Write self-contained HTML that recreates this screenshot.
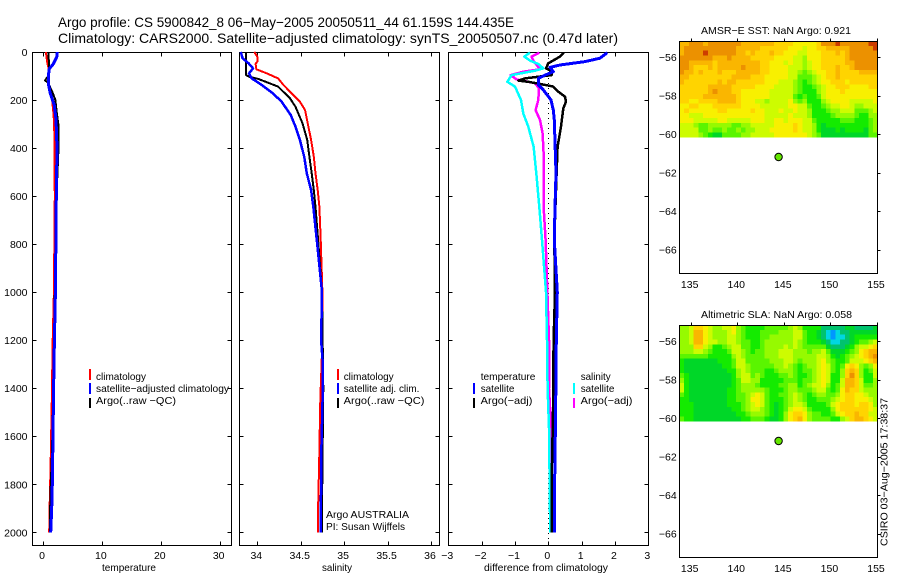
<!DOCTYPE html>
<html>
<head>
<meta charset="utf-8">
<title>Argo profile 5900842_8</title>
<style>
html,body{margin:0;padding:0;background:#fff;width:900px;height:580px;overflow:hidden}
svg{display:block;font-family:"Liberation Sans",sans-serif;fill:#000}
svg text{font-size:10.5px}
.title{font-size:14px}
.frame{fill:none;stroke:#000;stroke-width:1;shape-rendering:crispEdges}
</style>
</head>
<body>
<svg id="fig" width="900" height="580" viewBox="0 0 900 580" xmlns="http://www.w3.org/2000/svg">
  <text class="title" x="58" y="27" textLength="456" lengthAdjust="spacingAndGlyphs">Argo profile: CS 5900842_8 06−May−2005 20050511_44 61.159S 144.435E</text>
  <text class="title" x="58" y="43" textLength="560" lengthAdjust="spacingAndGlyphs">Climatology: CARS2000. Satellite−adjusted climatology: synTS_20050507.nc (0.47d later)</text>

  <g id="p1"></g>
  <g id="p2"></g>
  <g id="p3"></g>
  <g id="m1"></g>
  <g id="m2"></g>

  <text x="102" y="571" textLength="54" lengthAdjust="spacingAndGlyphs">temperature</text>
  <text x="322" y="571" textLength="30" lengthAdjust="spacingAndGlyphs">salinity</text>
  <text x="484" y="571" textLength="124" lengthAdjust="spacingAndGlyphs">difference from climatology</text>

  <g>
    <rect x="89" y="369" width="2" height="11" fill="#f00"/>
    <rect x="89" y="383" width="2" height="11" fill="#00f"/>
    <rect x="89" y="398" width="2" height="10" fill="#000"/>
    <text x="96" y="380" textLength="50" lengthAdjust="spacingAndGlyphs">climatology</text>
    <text x="96" y="392" textLength="133" lengthAdjust="spacingAndGlyphs">satellite−adjusted climatology</text>
    <text x="96" y="404" textLength="80" lengthAdjust="spacingAndGlyphs">Argo(..raw −QC)</text>
  </g>
  <g>
    <rect x="337" y="369" width="2" height="11" fill="#f00"/>
    <rect x="337" y="383" width="2" height="11" fill="#00f"/>
    <rect x="337" y="398" width="2" height="10" fill="#000"/>
    <text x="343.7" y="380" textLength="50" lengthAdjust="spacingAndGlyphs">climatology</text>
    <text x="343.7" y="392" textLength="75.7" lengthAdjust="spacingAndGlyphs">satellite adj. clim.</text>
    <text x="343.7" y="404" textLength="80.7" lengthAdjust="spacingAndGlyphs">Argo(..raw −QC)</text>
    <text x="326" y="518" textLength="83" lengthAdjust="spacingAndGlyphs">Argo AUSTRALIA</text>
    <text x="326" y="530" textLength="79" lengthAdjust="spacingAndGlyphs">PI: Susan Wijffels</text>
  </g>
  <g>
    <text x="480.7" y="380" textLength="54.7" lengthAdjust="spacingAndGlyphs">temperature</text>
    <rect x="473" y="383" width="2" height="11" fill="#00f"/>
    <rect x="473" y="398" width="2" height="10" fill="#000"/>
    <text x="480.7" y="392" textLength="33.7" lengthAdjust="spacingAndGlyphs">satellite</text>
    <text x="480.7" y="404" textLength="51.7" lengthAdjust="spacingAndGlyphs">Argo(−adj)</text>
    <text x="580.7" y="380" textLength="30" lengthAdjust="spacingAndGlyphs">salinity</text>
    <rect x="573" y="383" width="2" height="11" fill="#0ff"/>
    <rect x="573" y="398" width="2" height="10" fill="#f0f"/>
    <text x="580.7" y="392" textLength="33.7" lengthAdjust="spacingAndGlyphs">satellite</text>
    <text x="580.7" y="404" textLength="51.7" lengthAdjust="spacingAndGlyphs">Argo(−adj)</text>
  </g>

  <text x="701" y="34" textLength="150" lengthAdjust="spacingAndGlyphs">AMSR−E SST: NaN Argo: 0.921</text>
  <text x="701" y="318" textLength="151" lengthAdjust="spacingAndGlyphs">Altimetric SLA: NaN Argo: 0.058</text>
  <text transform="translate(887.5,546) rotate(-90)" textLength="148" lengthAdjust="spacingAndGlyphs">CSIRO 03−Aug−2005 17:38:37</text>
</svg>
<script>
/* ---------- profile data ---------- */
const depthTicks = [0,200,400,600,800,1000,1200,1400,1600,1800,2000];
const tempTicks = [0,10,20,30];
const salTicks = [34,34.5,35,35.5,36];
const diffTicks = [-3,-2,-1,0,1,2,3];

const tempClimDepth = [0,40,70,100,130,170,200,250,300,600,1000,1200,1450,1700,1900,2000];
const tempClimValue = [0.5,0.7,0.95,0.95,1.0,1.3,1.55,1.75,1.9,2.0,1.85,1.65,1.5,1.3,1.12,1.05];
const tempArgoDepth = [0,60,100,118,130,170,200,250,300,420,600,1000,1400,1650,1850,2000];
const tempArgoValue = [0.9,1.05,0.9,0.35,0.9,1.65,2.1,2.32,2.6,2.6,2.3,2.0,1.75,1.55,1.25,1.15];
const tempSatDepth = [0,20,50,70,100,130,170,220,280,400,600,1000,1200,1400,1600,1800,1900,2000];
const tempSatValue = [2.43,2.35,1.75,1.07,0.9,0.9,1.2,1.9,2.2,2.38,2.26,2.1,1.93,1.8,1.7,1.58,1.47,1.3];

const salClimDepth = [0,19,40,50,72,89,110,137,172,207,242,297,366,436,505,575,644,783,1000,1200,1450,1700,1900,2000];
const salClimValue = [33.965,34.0,34.0,33.98,33.99,34.11,34.24,34.3,34.395,34.49,34.55,34.58,34.62,34.65,34.67,34.695,34.715,34.73,34.75,34.75,34.725,34.713,34.7,34.7];
const salArgoDepth = [0,96,103,112,144,193,228,297,366,436,505,575,644,783,1000,1400,1900,2000];
const salArgoValue = [33.87,33.87,33.905,34.01,34.24,34.376,34.44,34.52,34.575,34.6,34.626,34.65,34.67,34.7,34.745,34.76,34.745,34.745];
const salSatDepth = [0,26,47,68,89,110,137,172,207,262,311,366,436,505,575,644,783,1000,1200,1300,1500,1600,1800,2000];
const salSatValue = [33.81,33.83,33.9,33.95,33.905,33.935,34.05,34.18,34.28,34.385,34.44,34.49,34.54,34.57,34.62,34.645,34.685,34.745,34.735,34.755,34.75,34.74,34.735,34.73];

const diffTempSatDepth = [3,26,40,54,64,82,96,110,137,158,200,242,283,505,644,783,1000,1200,1500,1900,2000];
const diffTempSatValue = [1.77,1.55,1.1,0.35,0.05,0.15,-0.1,-0.3,-0.3,-0.15,0.08,0.15,0.18,0.23,0.2,0.18,0.27,0.24,0.22,0.18,0.18];
const diffTempArgoDepth = [3,19,47,68,82,96,110,119,124,137,144,165,186,207,235,311,394,505,783,1000,1200,1500,1800,2000];
const diffTempArgoValue = [0.47,0.35,0,-0.07,0.12,0.1,-0.7,-0.9,-0.6,-0.1,0.15,0.3,0.5,0.53,0.45,0.38,0.28,0.25,0.18,0.2,0.16,0.14,0.1,0.1];
const diffSalSatDepth = [3,19,36,50,68,78,96,124,144,200,256,311,394,505,644,783,1000,1200,1400,1600,1800,2000];
const diffSalSatValue = [-0.55,-0.72,-0.55,-0.3,-0.15,-0.4,-1.1,-1.23,-1.0,-0.82,-0.75,-0.6,-0.44,-0.36,-0.27,-0.19,-0.07,-0.04,-0.02,0.03,0.04,0.06];
const diffSalArgoDepth = [3,19,36,72,82,96,114,130,151,200,242,283,339,422,644,783,1200,1400,1500,1700,1800,2000];
const diffSalArgoValue = [-0.27,-0.5,-0.45,-0.25,-0.75,-1.13,-0.95,-0.4,-0.28,-0.3,-0.38,-0.25,-0.17,-0.14,-0.14,-0.08,0.02,0.02,0.06,0.06,0.09,0.08];

/* ---------- map data (colour level) ---------- */
const lonTicks = [135,140,145,150,155];
const latTicks = [-56,-58,-60,-62,-64,-66];
const floatLon = 144.435;
const floatLat = -61.159;
const sstGrid = [
[7,7,8,8,8,7,8,8,8,8,8,8,8,7,7,7,7,7,7,7,6,6,6,6,5,5,5,5,5,6,8,8,8,9,8,8,8,8,8,8,9,9],
[7,8,8,8,8,8,8,8,8,8,8,8,7,7,7,7,7,6,6,6,6,6,6,5,5,5,4,5,5,6,6,7,7,7,7,7,8,8,8,8,8,9],
[7,8,8,8,8,9,8,8,8,8,8,8,7,7,6,7,6,6,6,7,6,6,5,5,5,4,4,5,5,5,6,6,6,7,6,7,8,8,8,8,8,8],
[8,8,8,8,8,8,8,7,7,7,8,7,7,7,7,6,6,6,6,6,5,5,5,5,4,4,3,5,5,5,6,6,6,6,6,7,8,8,8,8,8,8],
[8,8,7,7,7,7,7,6,7,7,7,7,7,7,7,7,7,6,6,5,5,5,4,5,4,4,3,4,5,5,6,6,6,6,6,7,7,8,8,8,8,8],
[8,8,7,6,6,6,7,6,7,7,7,7,7,8,7,7,7,6,6,5,5,5,5,4,4,4,3,4,5,5,6,6,6,7,6,6,7,8,8,8,8,8],
[8,7,7,6,7,6,6,6,7,6,6,6,7,7,7,7,7,6,6,5,5,5,5,4,4,3,2,3,4,5,5,6,6,7,6,6,6,6,7,7,7,7],
[7,7,6,6,6,6,6,6,6,6,6,7,7,7,7,6,6,6,5,5,5,5,5,4,4,2,2,2,3,4,5,6,6,7,6,6,6,6,6,6,6,6],
[7,6,6,6,6,6,6,6,7,6,7,7,6,6,6,6,6,6,5,5,5,4,4,4,3,2,1,2,3,4,5,5,6,6,6,5,6,6,6,6,6,6],
[6,6,6,6,6,6,7,7,7,7,7,6,6,6,6,6,5,5,5,5,4,4,4,4,3,2,1,1,2,3,4,5,5,6,6,6,5,5,5,5,6,6],
[6,6,6,6,6,6,7,8,7,7,7,6,6,5,5,5,5,5,5,4,4,4,4,4,3,2,1,1,1,3,4,5,5,5,6,5,5,5,5,5,5,5],
[6,6,6,6,6,7,7,7,7,7,7,7,6,5,5,5,5,5,5,4,4,4,4,4,2,1,2,1,1,2,4,5,5,5,5,5,5,5,5,5,5,5],
[6,6,5,5,6,6,6,6,7,7,7,7,6,5,5,5,4,4,3,4,4,4,4,5,3,2,3,1,1,1,3,4,5,5,5,5,4,4,4,4,4,5],
[5,5,6,6,5,5,5,6,6,6,6,6,6,5,5,5,5,4,4,4,4,4,4,5,5,4,4,2,1,1,2,3,4,4,5,5,4,3,3,4,4,4],
[5,6,5,5,5,5,5,5,6,6,5,5,5,5,5,6,5,5,4,4,4,5,4,4,5,4,4,3,1,1,1,2,3,3,4,4,4,2,2,2,3,4],
[5,5,4,4,4,5,5,5,5,5,5,5,5,5,5,5,5,5,4,4,4,4,4,5,4,4,4,3,1,1,1,1,2,3,3,3,3,2,1,1,3,3],
[5,5,5,4,4,4,4,4,5,5,4,4,4,4,4,5,5,5,4,4,5,5,4,5,5,5,4,4,2,1,1,1,1,1,2,2,2,1,1,1,2,3],
[4,4,4,3,2,2,3,3,3,3,3,2,2,3,3,4,4,4,4,4,5,5,5,5,6,5,4,4,3,1,0,1,1,1,1,1,1,1,1,1,2,3],
[4,4,4,4,2,2,3,2,2,3,2,2,3,2,3,3,4,4,4,5,5,5,5,5,6,5,4,4,3,1,0,0,0,1,0,1,1,1,1,0,2,3],
[4,4,4,4,3,2,1,0,0,2,2,2,2,3,3,4,4,4,4,4,5,5,5,5,5,5,5,4,3,2,0,0,0,0,0,0,0,0,0,0,2,2]
];
const slaGrid = [
[3,3,4,6,6,5,4,3,3,4,4,5,3,2,1,1,1,1,2,2,2,2,2,3,4,3,1,1,1,1,-1,-1,-1,-1,-1,0,0,-1,-1,-1,-1,0],
[3,3,4,7,7,5,4,3,3,3,4,5,3,2,1,1,1,2,2,2,2,3,3,3,4,4,2,1,1,0,-1,-2,-3,-2,-1,-1,0,0,0,0,0,0],
[3,3,4,7,7,5,4,3,3,3,4,4,3,2,1,1,1,2,2,3,3,3,3,3,4,4,2,1,1,0,-1,-2,-3,-2,-2,-1,0,1,1,1,1,1],
[3,3,4,7,7,5,4,4,3,3,4,4,3,2,2,1,1,2,3,3,3,3,3,3,4,3,2,1,1,1,0,-1,-2,-2,-1,-1,0,1,2,2,3,4],
[3,3,3,6,6,4,3,1,1,2,3,4,4,2,2,1,1,2,3,3,3,3,4,3,4,3,2,2,2,2,2,0,-1,-1,-1,0,1,3,4,4,5,6],
[3,3,3,4,4,3,2,1,1,1,2,4,4,3,2,1,2,2,3,3,3,4,4,4,3,3,3,2,3,3,4,2,0,0,0,1,2,3,5,6,7,7],
[2,2,2,2,2,2,1,1,1,1,1,3,4,3,2,2,2,2,3,3,3,4,4,4,3,3,3,3,3,4,4,3,1,0,1,2,3,4,5,6,7,8],
[1,0,0,0,0,0,0,0,1,1,1,2,4,4,2,2,2,2,2,3,3,3,4,4,3,2,3,3,3,4,5,3,2,1,1,2,4,4,4,5,6,7],
[1,0,0,0,0,0,0,0,0,1,1,2,4,4,3,2,2,2,2,2,3,3,4,3,2,1,2,3,3,4,5,4,2,1,2,5,6,5,3,2,3,5],
[1,0,0,0,0,0,0,0,0,0,1,1,3,4,3,2,2,2,1,1,2,3,3,3,2,1,2,2,3,4,5,4,2,1,3,6,7,6,3,1,2,4],
[2,1,0,0,0,0,0,0,0,0,0,1,3,4,4,2,3,2,1,1,1,2,2,3,2,1,1,2,3,4,5,4,1,1,3,6,8,6,3,1,1,4],
[3,1,0,0,0,0,0,0,0,0,0,1,2,4,4,3,3,1,1,1,1,1,2,2,2,1,2,2,3,4,5,4,1,1,4,7,7,6,4,1,1,3],
[4,1,0,0,0,0,0,0,0,0,0,1,2,3,3,3,2,1,1,1,1,2,2,3,3,1,2,3,4,4,5,3,1,2,4,7,7,6,4,2,2,3],
[4,1,0,0,0,0,0,0,0,0,1,1,2,3,3,3,3,3,2,1,1,1,2,3,3,2,2,2,3,4,4,2,1,2,5,7,6,6,4,3,3,3],
[2,1,0,0,0,0,0,0,0,0,1,1,2,2,3,4,5,4,2,1,1,2,2,3,4,3,2,1,2,3,3,2,2,3,5,6,6,5,5,4,3,3],
[1,1,0,0,0,0,0,0,0,0,1,1,2,2,3,5,5,4,2,1,1,1,2,3,4,3,2,1,1,2,2,2,3,4,5,6,6,5,5,5,4,3],
[1,1,1,0,0,0,0,0,0,0,1,1,1,2,3,4,5,4,2,1,0,1,2,3,4,4,3,1,1,1,1,2,4,5,6,6,6,5,6,6,5,3],
[1,1,1,0,0,0,0,0,0,0,0,1,1,2,3,4,4,3,2,1,0,1,2,4,5,5,4,2,1,1,1,1,3,5,6,6,6,6,6,6,5,4],
[1,1,1,0,0,0,0,0,0,0,0,0,1,1,2,3,3,3,2,1,0,1,3,5,6,6,5,3,2,2,1,1,2,4,5,6,6,7,6,6,4,4],
[2,1,1,0,0,0,0,0,0,0,0,0,0,1,1,2,2,2,1,0,0,1,3,5,6,7,5,3,2,2,2,2,1,1,3,4,6,7,7,6,5,4]
];

/* ---------- helpers ---------- */
const NS = 'http://www.w3.org/2000/svg';
function mk(parent, tag, attrs){
  const el = document.createElementNS(NS, tag);
  for (const k in attrs) el.setAttribute(k, attrs[k]);
  parent.appendChild(el);
  return el;
}
function linear(d0, r0, d1, r1){
  return function(v){ return r0 + (v - d0) * (r1 - r0) / (d1 - d0); };
}
function fmt(v){ return String(v).replace('-', '\u2212'); }

const depthY = linear(0, 52, 2000, 532.3);

function drawPanel(id, L, R, xScale, xTicks){
  const g = document.getElementById(id);
  const T = 52.5, B = 545.5;
  const ticks = mk(g, 'path', {fill:'none', stroke:'#000', 'stroke-width':1, 'shape-rendering':'crispEdges'});
  
  
  let d = '';
  depthTicks.forEach(function(v){
    const y = Math.round(depthY(v)) + 0.5;
    d += 'M' + L + ' ' + y + 'h4M' + R + ' ' + y + 'h-4';
  });
  xTicks.forEach(function(v){
    const x = Math.round(xScale(v)) + 0.5;
    d += 'M' + x + ' ' + T + 'v4M' + x + ' ' + B + 'v-4';
    const t = mk(g, 'text', {x: xScale(v) - 1, y: 559, 'text-anchor':'middle'});
    
    
    t.textContent = fmt(v);
  });
  ticks.setAttribute('d', d);
  const frame = mk(g, 'rect', {class:'frame', x:L, y:T, width:R-L, height:B-T});
  
  
  return g;
}
function drawSeries(g, name, depths, values, xScale, color, width){
  const pts = depths.map(function(dep, i){ return xScale(values[i]).toFixed(1) + ',' + depthY(dep).toFixed(1); }).join(' ');
  const line = mk(g, 'polyline', {points: pts, fill:'none', stroke:color, 'stroke-width':width, 'shape-rendering':'crispEdges', 'stroke-linejoin':'round'});
  
  
}

/* ---------- temperature ---------- */
const tempX = linear(0, 43, 30, 219.7);
const p1 = drawPanel('p1', 32.5, 231.5, tempX, tempTicks);
drawSeries(p1, 'temperature-climatology-line', tempClimDepth, tempClimValue, tempX, '#f00', 2);
drawSeries(p1, 'temperature-argo-line', tempArgoDepth, tempArgoValue, tempX, '#000', 2);
drawSeries(p1, 'temperature-satellite-line', tempSatDepth, tempSatValue, tempX, '#00f', 3);
depthTicks.forEach(function(v){
  const t = mk(p1, 'text', {x: 27.5, y: depthY(v) + 4, 'text-anchor':'end'});
  
  
  t.textContent = fmt(v);
});

/* ---------- salinity ---------- */
const salX = linear(34, 257.3, 36, 431);
const p2 = drawPanel('p2', 239.5, 439.5, salX, salTicks);
drawSeries(p2, 'salinity-climatology-line', salClimDepth, salClimValue, salX, '#f00', 2);
drawSeries(p2, 'salinity-argo-line', salArgoDepth, salArgoValue, salX, '#000', 2);
drawSeries(p2, 'salinity-satellite-line', salSatDepth, salSatValue, salX, '#00f', 2.5);

/* ---------- differences ---------- */
const diffX = linear(-3, 448.3, 3, 648.3);
const p3 = drawPanel('p3', 448.5, 648.5, diffX, diffTicks);
const zero = mk(p3, 'line', {x1: diffX(0), x2: diffX(0), y1: 53, y2: 545, stroke:'#000', 'stroke-width':1, 'stroke-dasharray':'1 4', 'shape-rendering':'crispEdges'});


drawSeries(p3, 'diff-salinity-argo-line', diffSalArgoDepth, diffSalArgoValue, diffX, '#f0f', 2.5);
drawSeries(p3, 'diff-salinity-satellite-line', diffSalSatDepth, diffSalSatValue, diffX, '#0ff', 2.5);
drawSeries(p3, 'diff-temperature-argo-line', diffTempArgoDepth, diffTempArgoValue, diffX, '#000', 2.5);
drawSeries(p3, 'diff-temperature-satellite-line', diffTempSatDepth, diffTempSatValue, diffX, '#00f', 3);

/* ---------- maps ---------- */
const levelColors = [[0,150,255],[0,215,225],[0,195,110],[0,215,40],[20,235,0],[90,245,0],[150,250,0],[205,252,0],[248,240,0],[255,212,0],[250,182,0],[236,145,0],[205,60,0]];
function levelColor(v){
  const p = Math.max(0, Math.min(levelColors.length - 1, v + 3));
  const i = Math.floor(p), j = Math.min(levelColors.length - 1, i + 1), f = p - i;
  const c = levelColors[i].map(function(a, k){ return Math.round(a + (levelColors[j][k] - a) * f); });
  return 'rgb(' + c.join(',') + ')';
}
function drawMap(id, top, bottom, grid, labelBase){
  const g = document.getElementById(id);
  const L = 679.5, R = 877.5;
  const lonX = linear(135, 690.7, 155, 877);
  const latY = linear(-56, top + 16, -66, top + 208.5);
  const lon0 = 133.8, dLon = 0.507, lat0 = -55.17, dLat = 0.25;
  grid.forEach(function(row, r){
    row.forEach(function(v, c){
      const x0 = lonX(lon0 + c * dLon), x1 = lonX(lon0 + (c + 1) * dLon);
      const y0 = latY(lat0 - r * dLat), y1 = latY(lat0 - (r + 1) * dLat);
      const cell = mk(g, 'rect', {x:x0.toFixed(2), y:y0.toFixed(2), width:(x1-x0).toFixed(2), height:(y1-y0).toFixed(2), fill:levelColor(v), 'shape-rendering':'crispEdges'});
      
      
    });
  });
  const ticks = mk(g, 'path', {fill:'none', stroke:'#000', 'stroke-width':1, 'shape-rendering':'crispEdges'});
  
  
  let d = '';
  lonTicks.forEach(function(v){
    const x = Math.round(lonX(v)) + 0.5;
    d += 'M' + x + ' ' + (top + 0.5) + 'v-3';
    const t = mk(g, 'text', {x: lonX(v) - 1, y: labelBase, 'text-anchor':'middle'});
    
    
    t.textContent = fmt(v);
  });
  latTicks.forEach(function(v){
    const y = Math.round(latY(v)) + 0.5;
    d += 'M' + R + ' ' + y + 'h3';
    const t = mk(g, 'text', {x: 676.7, y: latY(v) + 4, 'text-anchor':'end'});
    
    
    t.textContent = fmt(v);
  });
  ticks.setAttribute('d', d);
  const frame = mk(g, 'rect', {class:'frame', x:L, y:top + 0.5, width:R-L, height:bottom-top});
  
  
  const dot = mk(g, 'circle', {cx: lonX(floatLon), cy: latY(floatLat) + 0.7, r: 3.7, fill:'#64e600', stroke:'#000', 'stroke-width':1});
  
  
}
drawMap('m1', 41, 273, sstGrid, 288);
drawMap('m2', 325, 557, slaGrid, 572);
</script>
</body>
</html>
